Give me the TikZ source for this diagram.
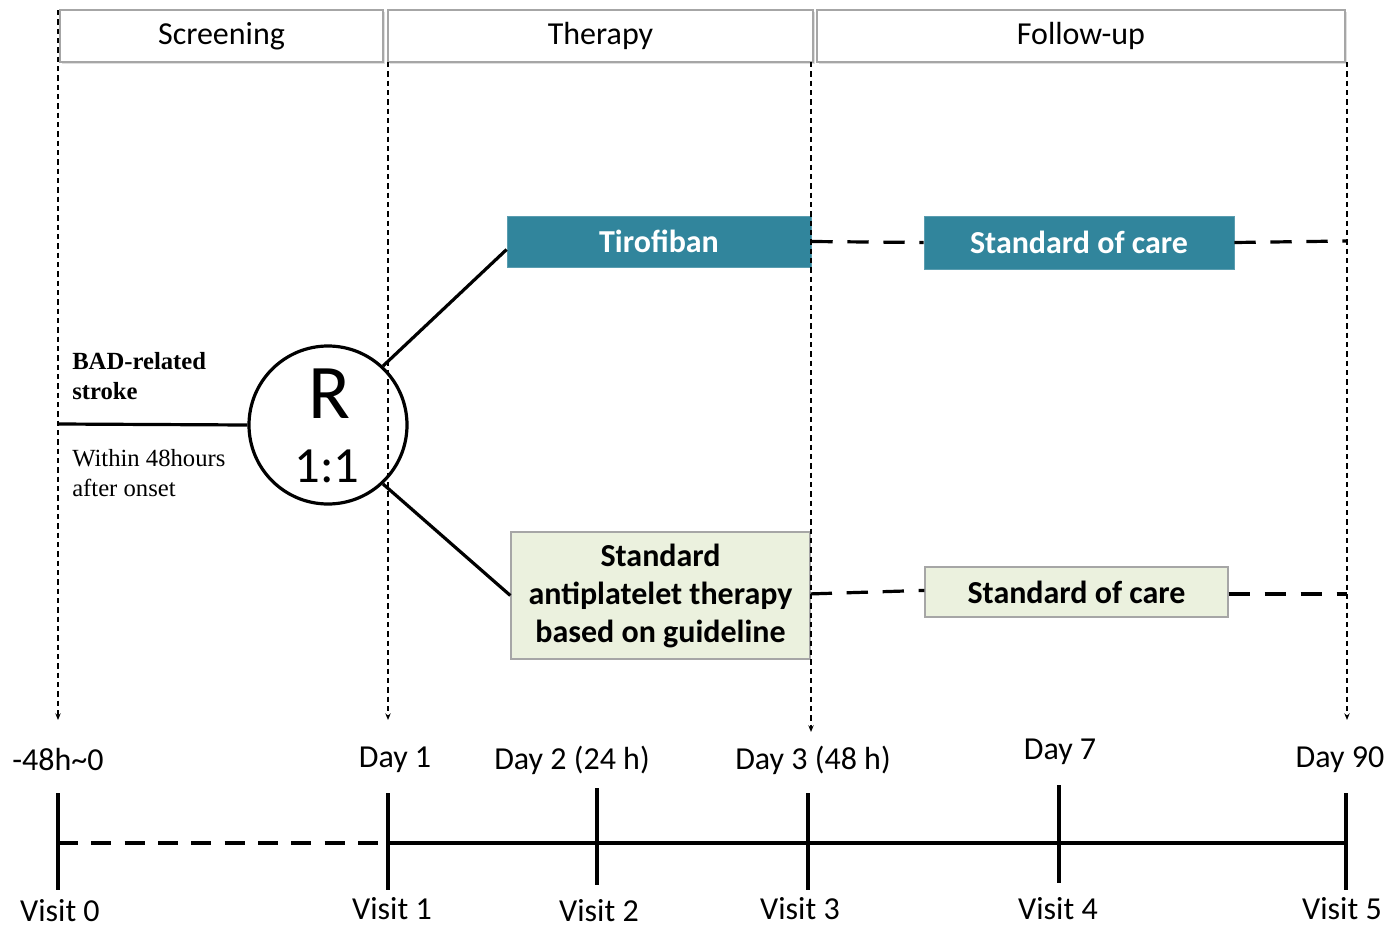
\documentclass[tikz,border=0pt]{standalone}
\usepackage{fontspec}
\setmainfont{Carlito}
\newfontfamily\timesf{Liberation Serif}
\usetikzlibrary{arrows.meta,shadows}
\definecolor{teal1}{HTML}{31859C}
\definecolor{green1}{HTML}{EBF1DE}
\definecolor{gray1}{HTML}{A6A6A6}
\begin{document}
\begin{tikzpicture}[x=0.75pt,y=-0.75pt,
  hdr/.style={draw=gray1,line width=1.2pt,fill=white,inner sep=0pt,
    minimum height={52*0.75pt},font=\fontsize{24}{29}\selectfont,
    drop shadow={opacity=0.25,shadow xshift=1.2pt,shadow yshift=-1.2pt}},
  tealbox/.style={fill=teal1,draw=teal1!80!white,line width=0.6pt,inner sep=0pt,
    text=white,font=\fontsize{24}{29}\selectfont\bfseries},
  greenbox/.style={fill=green1,draw=gray1,line width=1pt,inner sep=0pt,
    font=\fontsize{24}{28.5}\selectfont\bfseries,align=center},
  guide/.style={line width=1.2pt,dash pattern=on 4pt off 3pt,
    -{Stealth[length=5pt,width=4pt]}},
  thick2/.style={line width=2.4pt},
  dash2/.style={line width=2.4pt,dash pattern=on 16pt off 11pt},
  lbl/.style={font=\fontsize{24}{29}\selectfont,inner sep=0pt},
  tms/.style={font=\timesf\fontsize{18.5}{23}\selectfont,align=left,inner sep=0pt,anchor=west}
]
\useasboundingbox (0,0) rectangle (1400,928);

% header
\node[hdr,minimum width={323*0.75pt}] (scr) at (221.5,36) {Screening};
\node[hdr,minimum width={425*0.75pt}] (thr) at (600.5,36) {Therapy};
\node[hdr,minimum width={528*0.75pt}] (fol) at (1081,36) {Follow-up};

% vertical guides
\coordinate (g0t) at (58,10);   \coordinate (g0b) at (58,720);
\coordinate (g1t) at (388,62);  \coordinate (g1b) at (388,720);
\coordinate (g3t) at (811,62);  \coordinate (g3b) at (811,732);
\coordinate (g5t) at (1347,62); \coordinate (g5b) at (1347,720);
\draw[guide] (g0t) -- (g0b);
\draw[guide] (g1t) -- (g1b);
\draw[guide] (g5t) -- (g5b);

% boxes
\node[tealbox,minimum width={304*0.75pt},minimum height={51*0.75pt}] (tiro) at (659,241.5) {Tirofiban};
\node[tealbox,minimum width={310*0.75pt},minimum height={53*0.75pt}] (soc1) at (1079,242.5) {Standard of care};
\node[greenbox,minimum width={299*0.75pt},minimum height={127*0.75pt}] (sap) at (660.5,595.5) {Standard\\antiplatelet therapy\\based on guideline};
\node[greenbox,minimum width={303*0.75pt},minimum height={50*0.75pt}] (soc2) at (1076.5,592) {Standard of care};

\draw[guide] (g3t) -- (g3b);

% randomisation
\node[circle,draw,line width=2.4pt,minimum size={158*0.75pt},inner sep=0pt] (rnd) at (328,425) {};
\node[font=\fontsize{58}{60}\selectfont,inner sep=0pt] (rr) at (329,394) {R};
\node[font=\fontsize{38}{40}\selectfont,inner sep=0pt] (rat) at (327,466) {1:1};

\coordinate (inl) at (58,424);
\draw[thick2] (inl) -- (rnd.west);
\node[tms,font=\timesf\fontsize{18.5}{23}\selectfont\bfseries] (bad) at (72,376) {BAD-related\\stroke};
\node[tms] (wth) at (72,473) {Within 48hours\\after onset};

\draw[thick2] (rnd.47) -- ([yshift=-6pt]tiro.west);
\draw[thick2] (rnd.-47) -- (sap.west);

% dashed arm lines
\coordinate (e1) at (1347,241);
\coordinate (e2) at (1347,594);
\draw[dash2] (tiro.east) -- (soc1.west);
\draw[dash2] (soc1.east) -- (e1);
\draw[dash2] ([yshift=1.2pt]sap.east) -- ([yshift=1.2pt]soc2.west);
\draw[dash2] ([yshift=-1.5pt]soc2.east) -- (e2);

% timeline
\coordinate (t0) at (58,843);
\coordinate (t1) at (388,843);
\coordinate (t5) at (1346,843);
\draw[dash2,dash pattern=on 15pt off 10pt] (t0) -- (t1);
\draw[thick2] (t1) -- (t5);
\foreach \n/\x/\a/\b in {k0/58/793/890,k1/388/793/890,k2/597/788/885,k3/808/793/890,k4/1059/785/883,k5/1346/793/890}{
  \coordinate (\n a) at (\x,\a); \coordinate (\n b) at (\x,\b);
  \draw[thick2] (\n a) -- (\n b);
}

\node[lbl] (d0) at (58,760) {-48h\textasciitilde 0};
\node[lbl] (d1) at (395,760) {Day 1};
\node[lbl] (d2) at (572,760) {Day 2 (24 h)};
\node[lbl] (d3) at (813,760) {Day 3 (48 h)};
\node[lbl] (d7) at (1060,752) {Day 7};
\node[lbl] (d90) at (1340,760) {Day 90};

\node[lbl] (v0) at (60,911) {Visit 0};
\node[lbl] (v1) at (392,909) {Visit 1};
\node[lbl] (v2) at (599,911) {Visit 2};
\node[lbl] (v3) at (800,909) {Visit 3};
\node[lbl] (v4) at (1058,909) {Visit 4};
\node[lbl] (v5) at (1342,909) {Visit 5};
\end{tikzpicture}
\end{document}
